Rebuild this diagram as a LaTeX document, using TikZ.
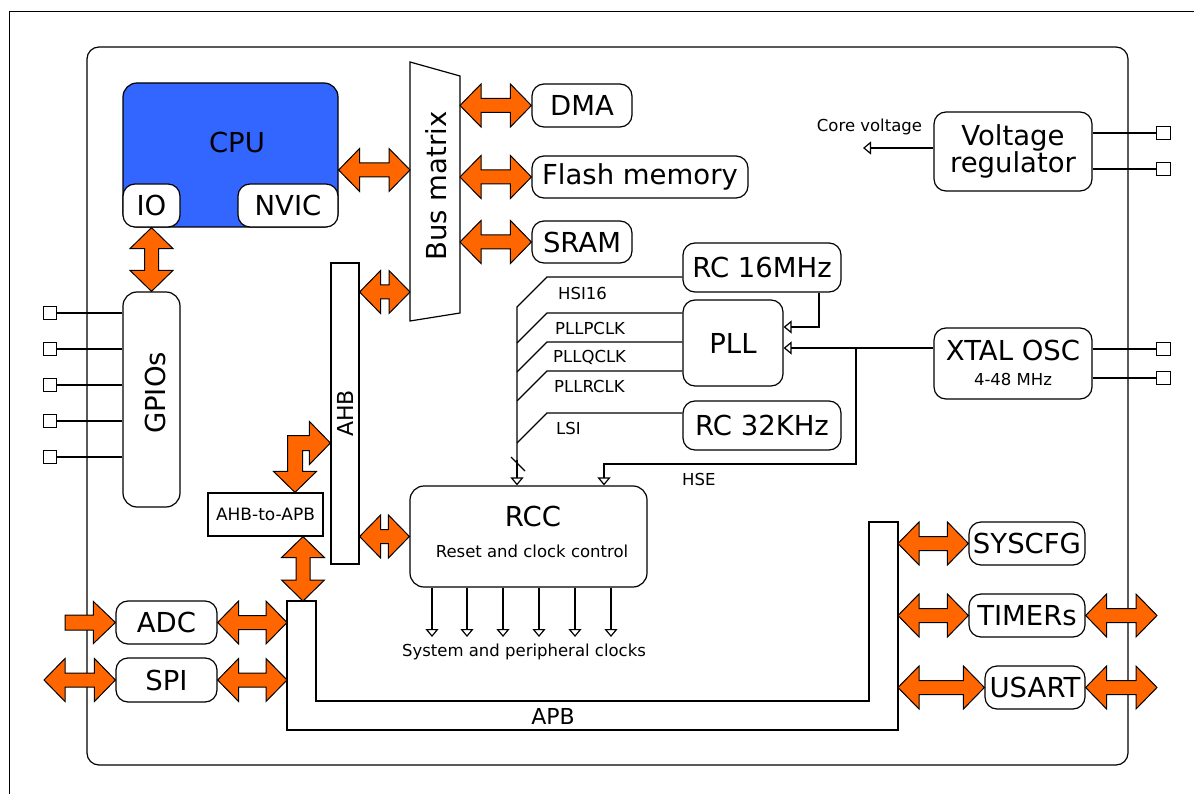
\documentclass[tikz,border=0pt]{standalone}
\usepackage{fontspec}
\setmainfont{DejaVu Sans}
\usetikzlibrary{calc,arrows.meta}

\definecolor{busorange}{HTML}{FF6600}
\definecolor{cpublue}{HTML}{3366FF}

\newcommand\bigtxt{\fontsize{27.5}{27}\selectfont}
\newcommand\midtxt{\fontsize{22}{24}\selectfont}
\newcommand\smalltxt{\fontsize{16.5}{18}\selectfont}
\newcommand\pintxt{\fontsize{17}{18}\selectfont}

\tikzset{
  unit/.style={draw, fill=white, line width=1.2pt, rounded corners=12pt,
    inner sep=0pt, font=\bigtxt},
  plainbox/.style={draw, fill=white, line width=1.2pt, inner sep=0pt},
  pin/.style={draw, fill=white, line width=1.2pt, minimum size=13.5pt, inner sep=0pt},
  lbl/.style={inner sep=0pt},
  wire/.style={line width=1.2pt},
  clk/.style={line width=1.2pt, -{Triangle[open, length=8pt, width=13pt]}},
  % double-headed bus arrow between two points
  dbl/.style={draw=black, fill=busorange, line width=1pt, line join=miter,
    to path={let \p1=(\tikztostart), \p2=(\tikztotarget),
      \n1={atan2(\y2-\y1,\x2-\x1)}, \n2={veclen(\x2-\x1,\y2-\y1)} in
      (\p1) -- ($(\p1)+(\n1:21pt)+(\n1+90:21.5pt)$)
      -- ($(\p1)+(\n1:21pt)+(\n1+90:7pt)$)
      -- ($(\p1)+(\n1:\n2-21pt)+(\n1+90:7pt)$)
      -- ($(\p1)+(\n1:\n2-21pt)+(\n1+90:21.5pt)$)
      -- (\p2)
      -- ($(\p1)+(\n1:\n2-21pt)+(\n1-90:21.5pt)$)
      -- ($(\p1)+(\n1:\n2-21pt)+(\n1-90:7pt)$)
      -- ($(\p1)+(\n1:21pt)+(\n1-90:7pt)$)
      -- ($(\p1)+(\n1:21pt)+(\n1-90:21.5pt)$)
      -- cycle}},
  % single-headed bus arrow with a flat tail
  sgl/.style={draw=black, fill=busorange, line width=1pt, line join=miter,
    to path={let \p1=(\tikztostart), \p2=(\tikztotarget),
      \n1={atan2(\y2-\y1,\x2-\x1)}, \n2={veclen(\x2-\x1,\y2-\y1)} in
      ($(\p1)+(\n1+90:7.5pt)$)
      -- ($(\p1)+(\n1:\n2-22pt)+(\n1+90:7.5pt)$)
      -- ($(\p1)+(\n1:\n2-22pt)+(\n1+90:21pt)$)
      -- (\p2)
      -- ($(\p1)+(\n1:\n2-22pt)+(\n1-90:21pt)$)
      -- ($(\p1)+(\n1:\n2-22pt)+(\n1-90:7.5pt)$)
      -- ($(\p1)+(\n1-90:7.5pt)$)
      -- cycle}},
  bentarrow/.style={draw=black, fill=busorange, line width=1pt, line join=miter}
}

\begin{document}
\begin{tikzpicture}[x=1pt, y=-1pt]
\useasboundingbox (0,0) rectangle (1194,794);

% outer frame and chip outline
\draw[line width=1pt] (9,794) -- (9,12) -- (1194,12);
\draw[wire, rounded corners=12pt] (87,47) rectangle (1128,765);

% ---------- pins ----------
\foreach \i/\y in {1/313, 2/349, 3/385, 4/421, 5/457}
  \node[pin] (gp\i) at (50,\y) {};
\node[pin] (vp1) at (1163.5,133) {};
\node[pin] (vp2) at (1163.5,169) {};
\node[pin] (xp1) at (1163.5,349) {};
\node[pin] (xp2) at (1163.5,378) {};

% ---------- CPU ----------
\node[unit, fill=cpublue, rounded corners=14pt, minimum width=215, minimum height=144]
  (cpu) at (230.5,155) {};
\node[lbl, font=\bigtxt] (cputxt) at (237,142) {CPU};
\node[unit, minimum width=57, minimum height=43] (io) at (151.5,205.5) {IO};
\node[unit, minimum width=100, minimum height=43] (nvic) at (288,205.5) {NVIC};

% ---------- GPIOs ----------
\node[unit, rounded corners=14pt, minimum width=57, minimum height=215] (gpio) at (151.5,399.5) {};
\node[lbl, font=\bigtxt] (gpiotxt) at (155,393) {\rotatebox{90}{GPIOs}};
\foreach \i in {1,...,5}
  \draw[wire] (gp\i.east) -- (gp\i.east -| gpio.west);

% ---------- bus matrix ----------
\draw[wire, fill=white] (410,62) -- (460,76) -- (460,313) -- (410,321) -- cycle;
\node[lbl, font=\bigtxt] (bmtxt) at (436,186) {\rotatebox{90}{Bus matrix}};
\coordinate (bmcpu) at (410,170);
\coordinate (bmahb) at (410,292);
\coordinate (bmr) at (460,0);

% ---------- memories / DMA ----------
\node[unit, minimum width=100, minimum height=43] (dma) at (582,105.5) {DMA};
\node[unit, minimum width=216, minimum height=42] (flash) at (640,177) {Flash memory};
\node[unit, minimum width=100, minimum height=42] (sram) at (582,242) {SRAM};

% ---------- AHB ----------
\node[plainbox, minimum width=28, minimum height=301, font=\midtxt] (ahb) at (345,413.5)
  {\rotatebox{90}{AHB}};
\node[plainbox, minimum width=115, minimum height=43, font=\pintxt] (ahbapb) at (265.5,514.5)
  {AHB-to-APB};

% ---------- APB ----------
\draw[wire, fill=white] (287,601) -- (316,601) -- (316,701) -- (869,701) -- (869,522)
  -- (898,522) -- (898,730) -- (287,730) -- cycle;
\node[lbl, font=\midtxt] (apbtxt) at (553,716) {APB};
\coordinate (apbtop) at (303,601);
\coordinate (apbl) at (287,0);
\coordinate (apbr) at (898,0);

% ---------- clocks ----------
\node[unit, minimum width=158, minimum height=49] (rc16) at (762,267.5) {RC 16MHz};
\node[unit, minimum width=100, minimum height=86] (pll) at (733,343) {PLL};
\node[unit, minimum width=158, minimum height=49] (rc32) at (762,425.5) {RC 32KHz};
\node[unit, minimum width=158, minimum height=71] (xtal) at (1013,363.5) {};
\node[lbl, font=\bigtxt] (xtaltxt) at (1013,350) {XTAL OSC};
\node[lbl, font=\smalltxt] (xtalf) at (1013,379) {4-48 MHz};
\node[unit, minimum width=237, minimum height=101, rounded corners=14pt] (rcc) at (528.5,536.5) {};
\node[lbl, font=\bigtxt] (rcctxt) at (533,516) {RCC};
\node[lbl, font=\smalltxt] (rccsub) at (532,551) {Reset and clock control};

% clock sources into the RCC
\draw[wire] (rc16.west |- 0,277) -- (547,277) -- (517,307) -- (517,464);
\draw[wire] (pll.west |- 0,313) -- (547,313) -- (517,343);
\draw[wire] (pll.west |- 0,342) -- (547,342) -- (517,372);
\draw[wire] (pll.west |- 0,371) -- (547,371) -- (517,401);
\draw[wire] (rc32.west |- 0,413) -- (547,413) -- (517,443);
\draw[clk] (517,460) -- (517,0 |- rcc.north);
\draw[wire] (511,457) -- (525,471);
\node[lbl, font=\smalltxt, anchor=west] (hsi) at (558,293) {HSI16};
\node[lbl, font=\smalltxt, anchor=west] (pllp) at (555,328) {PLLPCLK};
\node[lbl, font=\smalltxt, anchor=west] (pllq) at (553,357) {PLLQCLK};
\node[lbl, font=\smalltxt, anchor=west] (pllr) at (554,386) {PLLRCLK};
\node[lbl, font=\smalltxt, anchor=west] (lsi) at (556,428) {LSI};

% PLL inputs and HSE
\draw[clk] (819,0 |- rc16.south) -- (819,327) -- (pll.east |- 0,327);
\draw[clk] (xtal.west |- 0,348) -- (pll.east |- 0,348);
\draw[clk] (856,348) -- (856,464) -- (604,464) -- (604,0 |- rcc.north);
\node[lbl, font=\smalltxt, anchor=west] (hse) at (682,479) {HSE};

% RCC outputs
\foreach \x in {432,467,503,539,575,611}
  \draw[clk] (\x,0 |- rcc.south) -- (\x,637);
\node[lbl, font=\smalltxt] (sysclk) at (524,652) {System and peripheral clocks};

% ---------- voltage regulator ----------
\node[unit, minimum width=158, minimum height=79, align=center] (vreg) at (1013,151.5)
  {Voltage\\regulator};
\coordinate (corev) at (863,148);
\draw[clk] (vreg.west |- corev) -- (corev);
\node[lbl, font=\smalltxt] (corevtxt) at (869.5,127) {Core voltage};

% pins on the right
\draw[wire] (vreg.east |- vp1) -- (vp1.west);
\draw[wire] (vreg.east |- vp2) -- (vp2.west);
\draw[wire] (xtal.east |- xp1) -- (xp1.west);
\draw[wire] (xtal.east |- xp2) -- (xp2.west);

% ---------- APB peripherals ----------
\node[unit, minimum width=101, minimum height=43] (adc) at (166.5,622.5) {ADC};
\node[unit, minimum width=101, minimum height=44] (spi) at (166.5,680) {SPI};
\node[unit, minimum width=116, minimum height=43] (syscfg) at (1027,543.5) {SYSCFG};
\node[unit, minimum width=116, minimum height=43] (timers) at (1027,615.5) {TIMERs};
\node[unit, minimum width=100, minimum height=43] (usart) at (1035,687.5) {USART};

% ---------- bus arrows ----------
\draw[dbl] (cpu.east |- bmcpu) to (bmcpu);
\draw[dbl] (dma.west -| bmr) to (dma.west);
\draw[dbl] (flash.west -| bmr) to (flash.west);
\draw[dbl] (sram.west -| bmr) to (sram.west);
\draw[dbl] (io.south) to (gpio.north);
\draw[dbl] (ahb.east |- bmahb) to (bmahb);
\draw[dbl] (ahb.east |- rcc.west) to (rcc.west);
\draw[dbl] (ahbapb.south -| apbtop) to (apbtop);
\draw[dbl] (adc.east) to (adc.east -| apbl);
\draw[dbl] (spi.east) to (spi.east -| apbl);
\draw[dbl] (apbr |- syscfg.west) to (syscfg.west);
\draw[dbl] (apbr |- timers.west) to (timers.west);
\draw[dbl] (apbr |- usart.west) to (usart.west);

\coordinate (adcin) at (65,622.5);
\coordinate (spiext) at (44,680);
\coordinate (timext) at (1157,615.5);
\coordinate (usext) at (1157,687.5);
\draw[sgl] (adcin) to (adc.west);
\draw[dbl] (spiext) to (spi.west);
\draw[dbl] (timers.east) to (timext);
\draw[dbl] (usart.east) to (usext);

% AHB to the AHB-to-APB bridge: bent two-headed arrow
\coordinate (a1) at (ahb.west |- 0,443);
\coordinate (a2) at ($(ahbapb.north)+(29.5,0)$);
\coordinate (ac) at (a2 |- a1);
\draw[bentarrow] (a1) -- ($(a1)+(-21,-21.5)$) -- ($(a1)+(-21,-7.5)$)
  -- ($(ac)+(-7.5,-7.5)$) -- ($(a2)+(-7.5,-21)$) -- ($(a2)+(-21.5,-21)$)
  -- (a2) -- ($(a2)+(21.5,-21)$) -- ($(a2)+(7.5,-21)$) -- ($(ac)+(7.5,7.5)$)
  -- ($(a1)+(-21,7.5)$) -- ($(a1)+(-21,21.5)$) -- cycle;
\end{tikzpicture}
\end{document}
